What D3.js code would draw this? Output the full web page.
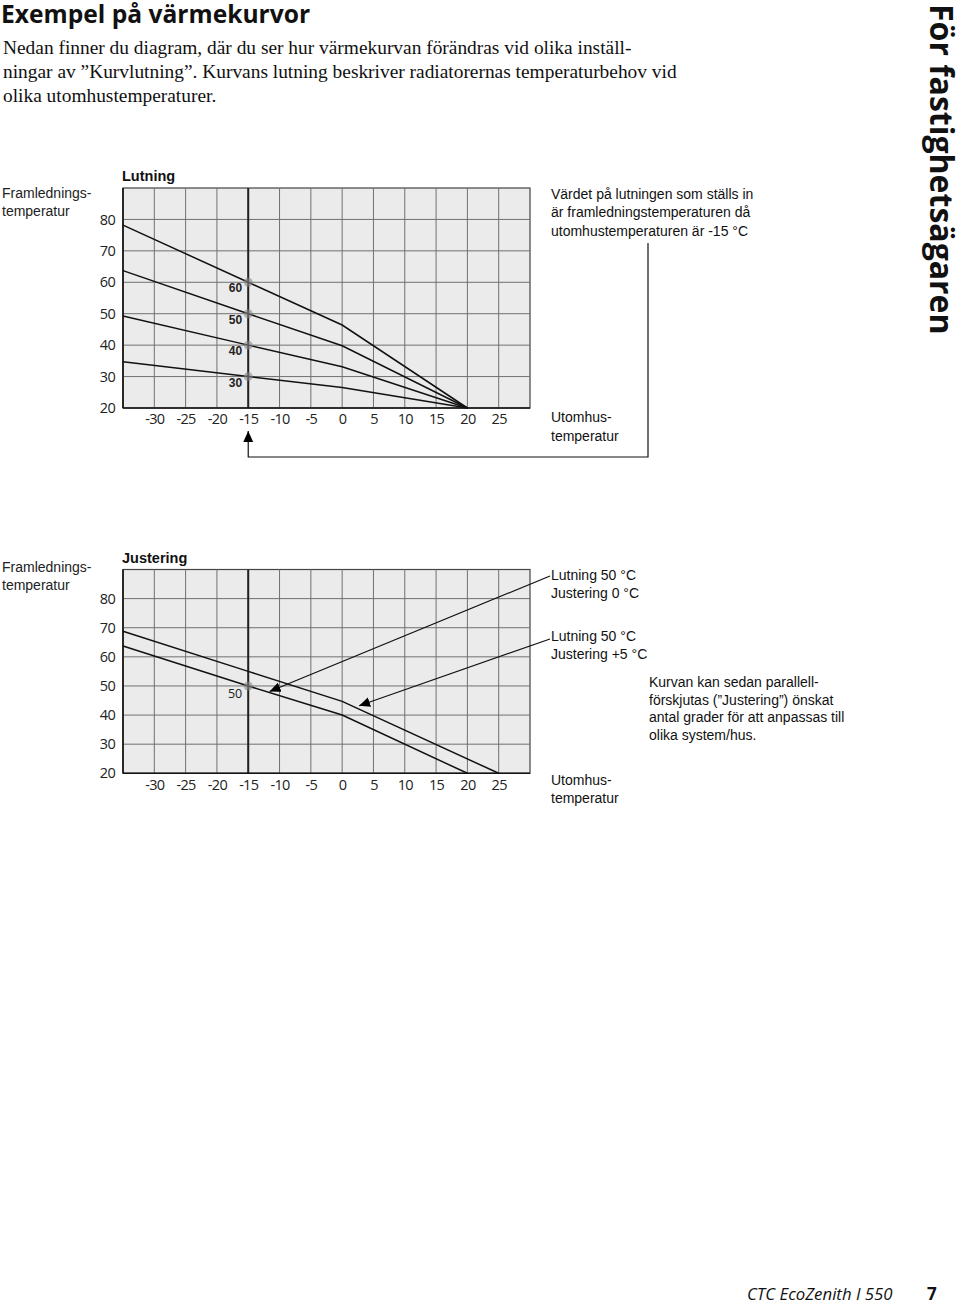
<!DOCTYPE html>
<html><head><meta charset="utf-8">
<script src="https://cdn.jsdelivr.net/npm/d3@7"></script>
<style>
body{margin:0;background:#fff;}
</style></head>
<body>
<script>
// ---- data ----
const xTicks = [-30,-25,-20,-15,-10,-5,0,5,10,15,20,25];
const yTicks = [20,30,40,50,60,70,80];
const xDomain = [-35,30];
const yDomain = [20,90];
// Chart 1: Lutning curves (outdoor temp -> supply temp)
const curveX = [-35,-15,0,20];
const lutningNames = [60,50,40,30];
const lutning60 = [78.2,60,46.4,20];
const lutning50 = [63.7,50,39.8,20];
const lutning40 = [49.3,40,33.1,20];
const lutning30 = [34.7,30,26.5,20];
// Chart 2: Justering curves
const just0X = [-35,-15,0,20];
const just0Y = [63.7,50,40,20];
const just5X = [-35,-15,0,25];
const just5Y = [68.8,55,44.7,20];
// arrow tips in chart 2 (data coords)
const arrowTip0 = [-11.6,48.1];
const arrowTip5 = [2.7,43.2];
const markX = -15;

const SANS = "'Liberation Sans', Arial, sans-serif";
const OPEN = "'Open Sans', sans-serif";
const SERIF = "'Liberation Serif', 'Times New Roman', serif";

const svg = d3.select("body").append("svg").attr("width",960).attr("height",1305)
  .style("font-family",SANS);
svg.append("rect").attr("width",960).attr("height",1305).attr("fill","#fff");
const defs = svg.append("defs");
defs.append("marker").attr("id","ah").attr("viewBox","0 0 10 10").attr("refX",10).attr("refY",5)
  .attr("markerWidth",11).attr("markerHeight",11).attr("markerUnits","userSpaceOnUse").attr("orient","auto")
  .append("path").attr("d","M0,0.5 L10,5 L0,9.5 Z").attr("fill","#000");

// header
svg.append("text").attr("x",1).attr("y",23).style("font-family",OPEN).attr("font-weight",700)
  .attr("font-size",24.6).attr("fill","#111").text("Exempel på värmekurvor");
const intro = ["Nedan finner du diagram, där du ser hur värmekurvan förändras vid olika inställ-",
 "ningar av ”Kurvlutning”. Kurvans lutning beskriver radiatorernas temperaturbehov vid",
 "olika utomhustemperaturer."];
intro.forEach((t,i)=>svg.append("text").attr("x",3).attr("y",54+i*24).style("font-family",SERIF)
  .attr("font-size",19.4).attr("fill","#111").text(t));

// side text
svg.append("text").attr("transform","translate(930,4) rotate(90)").style("font-family",OPEN)
  .attr("font-weight",700).attr("font-size",32).attr("fill","#111").text("För fastighetsägaren");

// footer
svg.append("text").attr("x",747).attr("y",1300).style("font-family",OPEN).attr("font-style","italic")
  .attr("font-size",16.8).attr("fill","#111").text("CTC EcoZenith I 550");
svg.append("text").attr("x",927).attr("y",1300).style("font-family",OPEN).attr("font-weight",700)
  .attr("font-size",17).attr("fill","#111").text("7");

const x = d3.scaleLinear().domain(xDomain).range([123,530]);

function drawFrame(y, title, titleY, labY){
  const g = svg.append("g");
  g.append("rect").attr("x",x(xDomain[0])).attr("y",y(yDomain[1])).attr("width",x(xDomain[1])-x(xDomain[0]))
    .attr("height",y(yDomain[0])-y(yDomain[1])).attr("fill","#ebebeb").attr("stroke","#444").attr("stroke-width",1.2);
  g.selectAll(".vg").data(xTicks).join("line").attr("x1",d=>x(d)).attr("x2",d=>x(d))
    .attr("y1",y(yDomain[0])).attr("y2",y(yDomain[1])).attr("stroke","#707070").attr("stroke-width",1);
  g.selectAll(".hg").data(yTicks.slice(1)).join("line").attr("y1",d=>y(d)).attr("y2",d=>y(d))
    .attr("x1",x(xDomain[0])).attr("x2",x(xDomain[1])).attr("stroke","#707070").attr("stroke-width",1);
  // marked -15 line
  g.append("line").attr("x1",x(markX)).attr("x2",x(markX)).attr("y1",y(yDomain[0])).attr("y2",y(yDomain[1]))
    .attr("stroke","#222").attr("stroke-width",2);
  // axes lines
  g.append("line").attr("x1",x(xDomain[0])).attr("x2",x(xDomain[1])).attr("y1",y(yDomain[0])).attr("y2",y(yDomain[0]))
    .attr("stroke","#111").attr("stroke-width",1.6);
  g.append("line").attr("x1",x(xDomain[0])).attr("x2",x(xDomain[0])).attr("y1",y(yDomain[0])).attr("y2",y(yDomain[1]))
    .attr("stroke","#111").attr("stroke-width",1.6);
  // tick labels
  const ax = g.append("g").attr("transform",`translate(0,${y(yDomain[0])})`)
    .call(d3.axisBottom(x).tickValues(xTicks).tickSize(0).tickPadding(6));
  ax.select(".domain").remove();
  ax.selectAll("text").style("font-family",OPEN).attr("font-size",14.5).attr("fill","#222")
    .attr("letter-spacing",-0.7).text(d=>String(d));
  const ay = g.append("g").attr("transform",`translate(${x(xDomain[0])},0)`)
    .call(d3.axisLeft(y).tickValues(yTicks).tickSize(0).tickPadding(8));
  ay.select(".domain").remove();
  ay.selectAll("text").style("font-family",OPEN).attr("font-size",14.5).attr("fill","#222").attr("letter-spacing",-0.7);
  // titles
  g.append("text").attr("x",122).attr("y",titleY).attr("font-weight",700).attr("font-size",14.5).attr("fill","#111").text(title);
  g.append("text").attr("x",2).attr("y",labY).attr("font-size",14).attr("fill","#222").text("Framlednings-");
  g.append("text").attr("x",2).attr("y",labY+17.5).attr("font-size",14).attr("fill","#222").text("temperatur");
  return g;
}

const line = (y)=>d3.line().x(d=>x(d[0])).y(d=>y(d[1]));

// ---- Chart 1 ----
const y1 = d3.scaleLinear().domain(yDomain).range([408,188]);
const g1 = drawFrame(y1,"Lutning",181,198);
const series1 = [lutning60,lutning50,lutning40,lutning30];
g1.selectAll(".c").data(series1).join("path").attr("d",s=>line(y1)(curveX.map((xv,i)=>[xv,s[i]])))
  .attr("fill","none").attr("stroke","#111").attr("stroke-width",1.5);
g1.selectAll(".dot").data(lutningNames).join("circle").attr("cx",x(markX)).attr("cy",d=>y1(d)).attr("r",4.5)
  .attr("fill","#888").attr("fill-opacity",0.6);
g1.selectAll(".dl").data(lutningNames).join("text").attr("x",x(markX)-6).attr("y",d=>y1(d)+10)
  .attr("text-anchor","end").attr("font-weight",700).attr("font-size",12).attr("fill","#222").text(d=>d);
// annotation text & arrow
["Värdet på lutningen som ställs in","är framledningstemperaturen då","utomhustemperaturen är -15 °C"]
  .forEach((t,i)=>svg.append("text").attr("x",551).attr("y",199+i*18.3).attr("font-size",14).attr("fill","#111").text(t));
["Utomhus-","temperatur"].forEach((t,i)=>svg.append("text").attr("x",551).attr("y",422+i*18.5).attr("font-size",14).attr("fill","#111").text(t));
svg.append("path").attr("d",`M648,243 L648,457 L${x(markX)},457 L${x(markX)},431`).attr("fill","none")
  .attr("stroke","#111").attr("stroke-width",1.2).attr("marker-end","url(#ah)");

// ---- Chart 2 ----
const y2 = d3.scaleLinear().domain(yDomain).range([773.3,569.5]);
const g2 = drawFrame(y2,"Justering",563,572);
g2.append("path").attr("d",line(y2)(just0X.map((xv,i)=>[xv,just0Y[i]]))).attr("fill","none").attr("stroke","#111").attr("stroke-width",1.5);
g2.append("path").attr("d",line(y2)(just5X.map((xv,i)=>[xv,just5Y[i]]))).attr("fill","none").attr("stroke","#111").attr("stroke-width",1.5);
g2.append("circle").attr("cx",x(markX)).attr("cy",y2(50)).attr("r",4.5).attr("fill","#888").attr("fill-opacity",0.6);
g2.append("text").attr("x",x(markX)-6).attr("y",y2(50)+12).attr("text-anchor","end").style("font-family",OPEN)
  .attr("font-size",12.5).attr("fill","#222").text("50");
svg.append("line").attr("x1",550).attr("y1",576).attr("x2",x(arrowTip0[0])).attr("y2",y2(arrowTip0[1]))
  .attr("stroke","#111").attr("stroke-width",1.2).attr("marker-end","url(#ah)");
svg.append("line").attr("x1",550).attr("y1",639).attr("x2",x(arrowTip5[0])).attr("y2",y2(arrowTip5[1]))
  .attr("stroke","#111").attr("stroke-width",1.2).attr("marker-end","url(#ah)");
const t2 = [["Lutning 50 °C",580],["Justering 0 °C",597.5],["Lutning 50 °C",641],["Justering +5 °C",658.5],
  ["Utomhus-",785],["temperatur",803]];
t2.forEach(d=>svg.append("text").attr("x",551).attr("y",d[1]).attr("font-size",14).attr("fill","#111").text(d[0]));
["Kurvan kan sedan parallell-","förskjutas (”Justering”) önskat","antal grader för att anpassas till","olika system/hus."]
  .forEach((t,i)=>svg.append("text").attr("x",649).attr("y",687+i*17.6).attr("font-size",14).attr("fill","#111").text(t));
</script>
</body></html>
